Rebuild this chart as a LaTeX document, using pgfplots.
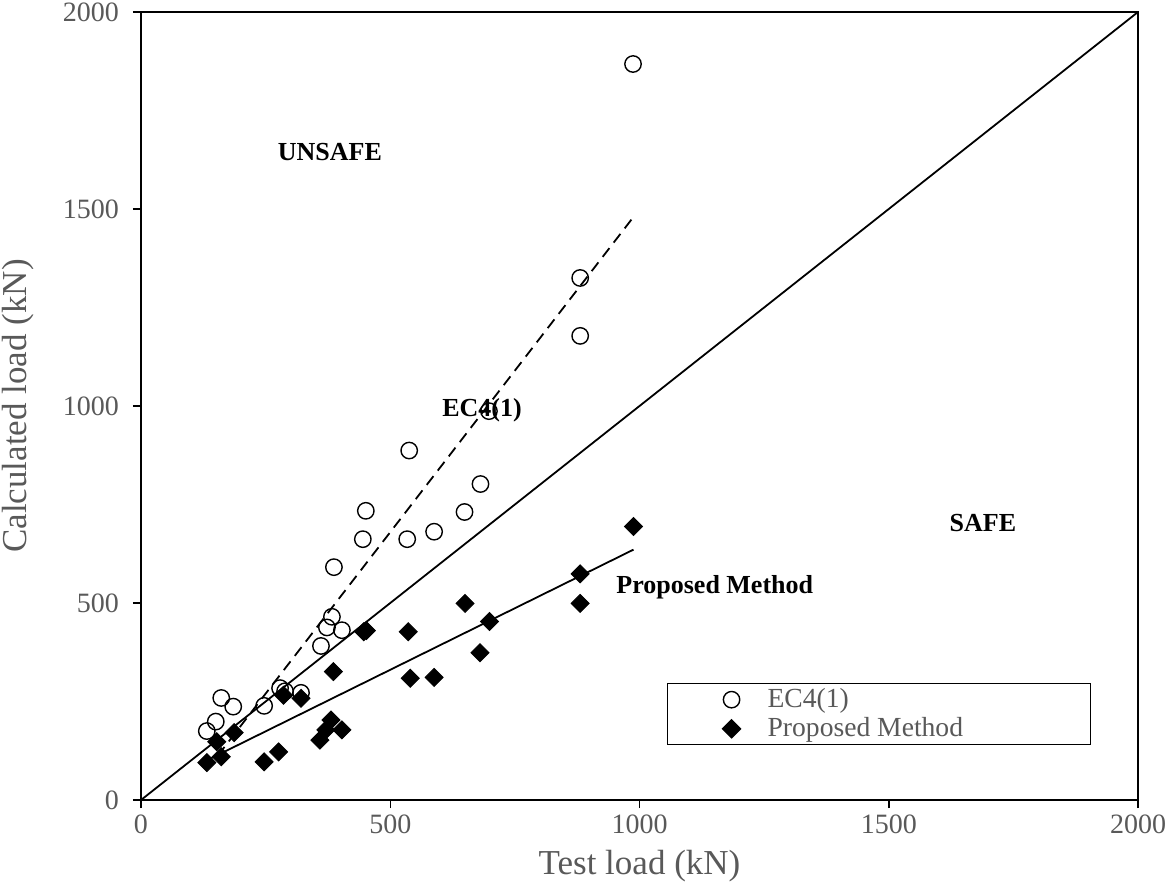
\documentclass[border=0pt]{standalone}
\usepackage{fontspec}
\setmainfont{Liberation Serif}
\usepackage{pgfplots}
\pgfplotsset{compat=1.18}
\definecolor{textgray}{RGB}{89,89,89}

\begin{document}
\begin{tikzpicture}
% fixed page frame around the 498.5pt x 394pt plot area
\useasboundingbox (-70.5pt,-45.5pt) rectangle (512.5pt,400pt);
\begin{axis}[
  scale only axis,
  width=498.5pt, height=394pt,
  xmin=0, xmax=2000, ymin=0, ymax=2000,
  xtick={0,500,1000,1500,2000},
  ytick={0,500,1000,1500,2000},
  tick pos=left,
  tick align=outside,
  major tick length=4pt,
  axis line style={line width=0.75pt},
  every tick/.style={black, line width=0.75pt},
  /pgf/number format/assume math mode=true,
  /pgf/number format/1000 sep={},
  tick label style={font=\fontsize{14}{16}\selectfont, text=textgray},
  yticklabel style={xshift=-3.5pt},
  xlabel={Test load (kN)},
  ylabel={Calculated load (kN)},
  label style={font=\fontsize{17.5}{20}\selectfont, text=textgray},
  xlabel style={at={(axis description cs:0.5,0)}, anchor=center, yshift=-33pt},
  ylabel style={at={(axis description cs:0,0.5)}, anchor=center, yshift=61.5pt},
  legend style={
    at={(axis cs:1055,297)}, anchor=north west,
    draw=black, line width=0.6pt,
    font=\fontsize{13.8}{15}\selectfont, text=textgray,
    inner xsep=27.5pt, inner ysep=2.5pt,
    nodes={inner sep=0pt},
    column sep=13.5pt, row sep=3.5pt,
  },
  legend cell align=left,
]

% 1:1 line separating safe and unsafe predictions
\addplot[black, line width=0.9pt, forget plot] coordinates {(0,0) (2000,2000)};

% linear trend of the EC4(1) predictions
\addplot[black, line width=0.9pt, dash pattern=on 5.5pt off 3.5pt, forget plot]
  coordinates {(132,76.5) (988,1480)};

% linear trend of the proposed method
\addplot[black, line width=0.9pt, forget plot]
  coordinates {(132,100.5) (988,635.5)};

% EC4(1) predictions
\addplot[only marks, mark=o, mark size=4.1pt, black, line width=0.7pt]
  coordinates {
  (132,175) (150,199) (161,259) (185,237) (247,239) (279,284)
  (289,276) (321,272) (361,391) (373,438) (383,465) (403,431)
  (387,591) (445,662) (451,734) (534,662) (538,887) (588,681)
  (649,731) (681,802) (698,987) (881,1325) (881,1178) (987,1868)
  };
\addlegendentry{\makebox[134pt][l]{EC4(1)}}

% proposed method predictions
\addplot[only marks, mark=square*, mark size=3.2pt, black,
  mark options={rotate=45}]
  coordinates {
  (132,95) (152,148) (161,110) (187,171) (247,97) (276,122)
  (286,266) (321,258) (359,152) (371,178) (381,203) (403,178)
  (386,326) (447,427) (452,430) (536,427) (540,309) (588,311)
  (650,499) (680,374) (699,453) (881,574) (881,499) (988,694)
  };
\addlegendentry{\makebox[134pt][l]{Proposed Method}}

% region and curve annotations
\node[font=\bfseries\fontsize{13}{15}\selectfont] at (axis cs:379,1645) {UNSAFE};
\node[font=\bfseries\fontsize{13}{15}\selectfont] at (axis cs:684,990) {EC4(1)};
\node[font=\bfseries\fontsize{13}{15}\selectfont] at (axis cs:1689,703) {SAFE};
\node[font=\bfseries\fontsize{13}{15}\selectfont] at (axis cs:1151,541) {Proposed Method};

\end{axis}
\end{tikzpicture}
\end{document}
